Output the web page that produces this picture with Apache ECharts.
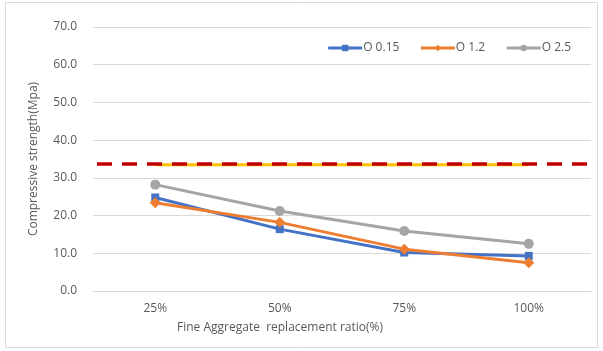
<!DOCTYPE html>
<html>
<head>
<meta charset="utf-8">
<script src="https://cdn.jsdelivr.net/npm/echarts@6/dist/echarts.min.js"></script>
<style>
  html, body { margin: 0; padding: 0; background: #fff; }
  #chart { width: 603px; height: 351px; }
</style>
</head>
<body>
<div id="chart"></div>
<script>
// Replacement ratios on the x axis
const categories = ['25%', '50%', '75%', '100%'];

// Compressive strength (MPa) per mix
const o015 = [24.8, 16.4, 10.2, 9.3];
const o12  = [23.4, 18.2, 11.1, 7.5];
const o25  = [28.2, 21.2, 15.9, 12.5];

// Reference strength levels
const targetSolid = [33.5, 33.5, 33.5, 33.5];
const targetDashed = 33.7;

const yTicks = { min: 0, max: 70, interval: 10 };

const textColor = '#595959';
const font = '"Open Sans", "Noto Sans", sans-serif';

const chart = echarts.init(document.getElementById('chart'), null, { renderer: 'canvas' });

chart.setOption({
  backgroundColor: '#fff',
  animation: false,
  textStyle: { fontFamily: font, color: textColor },
  grid: { left: 93, right: 12, top: 27, bottom: 60 },
  legend: {
    data: ['O 0.15', 'O 1.2', 'O 2.5'],
    top: 37,
    right: 27,
    itemWidth: 34,
    itemHeight: 8,
    itemGap: 20,
    lineStyle: { width: 3 },
    textStyle: { fontFamily: font, fontSize: 12, color: textColor, padding: [0, 0, 0, -4] }
  },
  xAxis: {
    type: 'category',
    data: categories,
    boundaryGap: true,
    axisLine: { show: true, lineStyle: { color: '#d9d9d9', width: 1 } },
    axisTick: { show: false },
    axisLabel: { color: textColor, fontSize: 12, margin: 12, fontFamily: font }
  },
  yAxis: {
    type: 'value',
    min: yTicks.min,
    max: yTicks.max,
    interval: yTicks.interval,
    name: 'Compressive strength(Mpa)',
    nameLocation: 'middle',
    nameGap: 53,
    nameTextStyle: { color: textColor, fontSize: 12, fontFamily: font },
    axisLine: { show: false },
    axisTick: { show: false },
    splitLine: { lineStyle: { color: '#d9d9d9', width: 1 } },
    axisLabel: {
      color: textColor, fontSize: 12, margin: 16, fontFamily: font,
      formatter: v => v.toFixed(1)
    }
  },
  graphic: [
    {
      type: 'rect',
      shape: { x: 5.5, y: 2.5, width: 592, height: 345 },
      style: { fill: 'none', stroke: '#d9d9d9', lineWidth: 1 },
      silent: true
    },
    {
      type: 'text',
      left: 177,
      top: 322,
      style: {
        text: 'Fine Aggregate  replacement ratio(%)',
        fill: textColor,
        font: '12px ' + font
      }
    }
  ],
  series: [
    {
      name: 'target',
      type: 'line',
      data: targetSolid,
      symbol: 'none',
      lineStyle: { color: '#FFC000', width: 3 },
      itemStyle: { color: '#FFC000' },
      z: 1,
      markLine: {
        silent: true,
        symbol: ['none', 'none'],
        label: { show: false },
        lineStyle: { color: '#C00000', width: 3.5, type: [15, 10], dashOffset: -4 },
        data: [{ yAxis: targetDashed }]
      }
    },
    {
      name: 'O 0.15',
      type: 'line',
      data: o015,
      symbol: 'rect',
      symbolSize: 8,
      lineStyle: { color: '#4472C4', width: 3 },
      itemStyle: { color: '#4472C4' },
      z: 3
    },
    {
      name: 'O 1.2',
      type: 'line',
      data: o12,
      symbol: 'diamond',
      symbolSize: 11,
      lineStyle: { color: '#ED7D31', width: 3 },
      itemStyle: { color: '#ED7D31' },
      z: 4
    },
    {
      name: 'O 2.5',
      type: 'line',
      data: o25,
      symbol: 'circle',
      symbolSize: 10,
      lineStyle: { color: '#A5A5A5', width: 3 },
      itemStyle: { color: '#A5A5A5' },
      z: 2
    }
  ]
});
</script>
</body>
</html>
